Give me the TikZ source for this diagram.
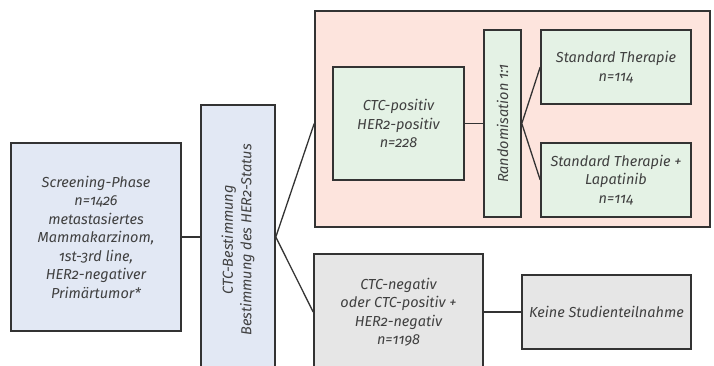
\documentclass[tikz,border=0pt]{standalone}
\usepackage{fontspec}
\setmainfont{Fira Sans}[Numbers=OldStyle]
\definecolor{boxblue}{HTML}{E2E8F4}
\definecolor{boxpink}{HTML}{FDE4DD}
\definecolor{boxgreen}{HTML}{E4F2E5}
\definecolor{boxgray}{HTML}{E6E6E6}
\definecolor{edge}{HTML}{333333}
\definecolor{txt}{HTML}{404040}
\tikzset{
  flowbox/.style={draw=edge, line width=1.6pt, align=center, inner sep=2pt,
    text=txt, font=\fontsize{14.5}{18.5}\selectfont\itshape},
  link/.style={draw=edge, line width=1.3pt}
}
\begin{document}
\begin{tikzpicture}[x=1pt,y=-1pt]
\useasboundingbox (0,0) rectangle (714,365);
\clip (0,0) rectangle (714,365);
% outer group of the HER2-positive arm
\node[flowbox, fill=boxpink, minimum width=395pt, minimum height=216pt] (arm) at (512.5,119) {};
% screening and CTC determination
\node[flowbox, fill=boxblue, minimum width=170pt, minimum height=188pt] (screen) at (96,237)
  {Screening-Phase\\n=1426\\metastasiertes\\Mammakarzinom,\\1st-3rd line,\\HER2-negativer\\Primärtumor*};
\node[flowbox, fill=boxblue, minimum width=270pt, minimum height=74pt, rotate=90] (ctc) at (238,240)
  {CTC-Bestimmung\\Bestimmung des HER2-Status};
% positive arm
\node[flowbox, fill=boxgreen, minimum width=131pt, minimum height=113pt] (pos) at (398.5,123.5)
  {CTC-positiv\\HER2-positiv\\n=228};
\node[flowbox, fill=boxgreen, minimum width=187pt, minimum height=37pt, rotate=90] (rand) at (502.5,123.5)
  {Randomisation 1:1};
\node[flowbox, fill=boxgreen, minimum width=150pt, minimum height=74pt] (std) at (616,67)
  {Standard Therapie\\n=114};
\node[flowbox, fill=boxgreen, minimum width=150pt, minimum height=74pt] (lap) at (616,180)
  {Standard Therapie +\\Lapatinib\\n=114};
% negative arm
\node[flowbox, fill=boxgray, minimum width=169pt, minimum height=116pt] (neg) at (398.5,312)
  {CTC-negativ\\oder CTC-positiv +\\HER2-negativ\\n=1198};
\node[flowbox, fill=boxgray, minimum width=169pt, minimum height=74pt] (none) at (606.5,312)
  {Keine Studienteilnahme};
% connectors
\draw[link] (screen.east) -- (screen.east -| ctc.north);
\coordinate (fork) at (screen.east -| ctc.south);
\draw[link] (fork) -- (arm.west |- pos.west);
\draw[link] (fork) -- (neg.west);
\draw[link] (pos.east) -- (pos.east -| rand.north);
\coordinate (split) at (pos.east -| rand.south);
\draw[link] (split) -- (std.west);
\draw[link] (split) -- (lap.west);
\draw[link] (neg.east) -- (none.west);
\end{tikzpicture}
\end{document}
